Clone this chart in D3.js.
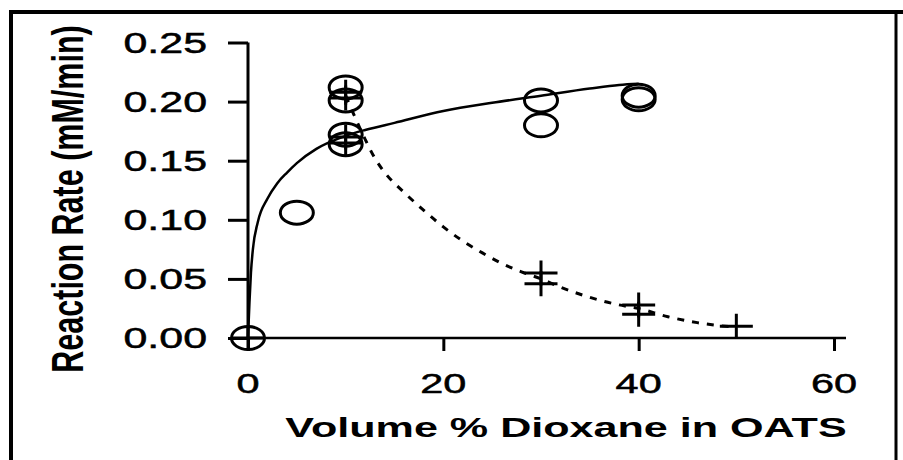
<!DOCTYPE html>
<html>
<head>
<meta charset="utf-8">
<script src="https://cdn.jsdelivr.net/npm/d3@7/dist/d3.min.js"></script>
<style>
  html, body { margin: 0; padding: 0; background: #fff; }
  svg { display: block; }
  text { font-family: "Liberation Sans", Arial, sans-serif; fill: #000; }
</style>
</head>
<body>
<svg id="chart" width="903" height="460"></svg>
<script>
// ---------- data ----------
const xTicks = [0, 20, 40, 60];
const yTicks = [0, 0.05, 0.10, 0.15, 0.20, 0.25];
const xTitle = "Volume % Dioxane in OATS";
const yTitle = "Reaction Rate (mM/min)";

// open circles (activity measured)
const circleX = [0, 5, 10, 10, 10, 10, 30, 30, 40, 40];
const circleY = [0, 0.106, 0.212, 0.201, 0.172, 0.164, 0.201, 0.180, 0.205, 0.202];

// plus markers
const plusX = [0, 10, 10, 10, 10, 30, 30, 40, 40, 50];
const plusY = [0, 0.208, 0.203, 0.170, 0.165, 0.055, 0.046, 0.028, 0.020, 0.010];

// solid fitted curve
const solidX = [0, 0.15, 0.3, 0.5, 1, 2, 3, 4, 5, 7, 10, 12, 15, 20, 25, 30, 35, 38, 40];
const solidY = [0, 0.030, 0.055, 0.075, 0.098, 0.118, 0.131, 0.140, 0.148, 0.160, 0.171, 0.176, 0.182, 0.192, 0.199, 0.205, 0.211, 0.214, 0.215];

// dashed fitted curve
const dashX = [10, 11, 12, 13, 14, 16, 18, 20, 22, 24, 26, 28, 30, 32, 34, 36, 38, 40, 43, 46, 50];
const dashY = [0.205, 0.186, 0.168, 0.152, 0.140, 0.123, 0.108, 0.094, 0.082, 0.072, 0.063, 0.056, 0.050, 0.043, 0.037, 0.032, 0.028, 0.025, 0.018, 0.013, 0.009];

// ---------- drawing ----------
const svg = d3.select("#chart");
const SX = 1.48; // horizontal stretch of the original picture

const x = d3.scaleLinear().domain([0, 60]).range([248, 834]);
const y = d3.scaleLinear().domain([0, 0.25]).range([338, 42.5]);

// frame
svg.append("path")
  .attr("d", "M11,460 V12 H903")
  .attr("fill", "none").attr("stroke", "#000").attr("stroke-width", 4);
svg.append("line")
  .attr("x1", 896).attr("x2", 896).attr("y1", 12).attr("y2", 460)
  .attr("stroke", "#000").attr("stroke-width", 3);

// axes
const yAxis = d3.axisLeft(y).tickValues(yTicks).tickSize(20).tickFormat("");
const gy = svg.append("g").attr("transform", "translate(248,0)").call(yAxis);
gy.select(".domain").attr("d", `M0,${y(0.25)}V${y(0)}`).attr("stroke-width", 3);
gy.selectAll(".tick line").attr("stroke-width", 3);

const xAxis = d3.axisBottom(x).tickValues(xTicks).tickSize(13).tickFormat("");
const gx = svg.append("g").attr("transform", "translate(0,338)").call(xAxis);
gx.select(".domain").attr("d", `M${x(0)},0H846`).attr("stroke-width", 2.5);
gx.selectAll(".tick line").attr("stroke-width", 3);

// tick labels (real text, stretched like the original)
svg.selectAll("text.yt").data(yTicks).enter().append("text")
  .attr("class", "yt")
  .attr("transform", d => `translate(207,${y(d)}) scale(${SX},1)`)
  .attr("dy", "0.36em")
  .attr("text-anchor", "end")
  .style("font-size", "29px")
  .style("stroke", "#000").style("stroke-width", 0.5)
  .text(d => d3.format(".2f")(d));

svg.selectAll("text.xt").data(xTicks).enter().append("text")
  .attr("class", "xt")
  .attr("transform", d => `translate(${x(d)},393) scale(${SX},1)`)
  .attr("text-anchor", "middle")
  .style("font-size", "28px")
  .style("stroke", "#000").style("stroke-width", 0.5)
  .text(d => d);

// axis titles
svg.append("text")
  .attr("transform", `translate(566,437) scale(1.54,1)`)
  .attr("text-anchor", "middle")
  .style("font-size", "28px").style("font-weight", "bold")
  .text(xTitle);

svg.append("text")
  .attr("transform", `translate(83,199) scale(${SX},1) rotate(-90)`)
  .attr("text-anchor", "middle")
  .style("font-size", "30.5px").style("font-weight", "bold")
  .text(yTitle);

// curves
const line = d3.line().x(d => x(d[0])).y(d => y(d[1])).curve(d3.curveMonotoneX);
svg.append("path")
  .datum(d3.zip(solidX, solidY))
  .attr("d", line)
  .attr("fill", "none").attr("stroke", "#000").attr("stroke-width", 2.5);

svg.append("path")
  .datum(d3.zip(dashX, dashY))
  .attr("d", line)
  .attr("fill", "none").attr("stroke", "#000").attr("stroke-width", 3)
  .attr("stroke-dasharray", "7,8");

// markers
svg.selectAll("ellipse.c").data(d3.zip(circleX, circleY)).enter().append("ellipse")
  .attr("class", "c")
  .attr("cx", d => x(d[0])).attr("cy", d => y(d[1]))
  .attr("rx", 16.5).attr("ry", 11.5)
  .attr("fill", "none").attr("stroke", "#000").attr("stroke-width", 3);

svg.selectAll("path.p").data(d3.zip(plusX, plusY)).enter().append("path")
  .attr("class", "p")
  .attr("transform", d => `translate(${x(d[0])},${y(d[1])})`)
  .attr("d", "M-16.5,0H16.5M0,-12.5V12.5")
  .attr("fill", "none").attr("stroke", "#000").attr("stroke-width", 3);
</script>
</body>
</html>
